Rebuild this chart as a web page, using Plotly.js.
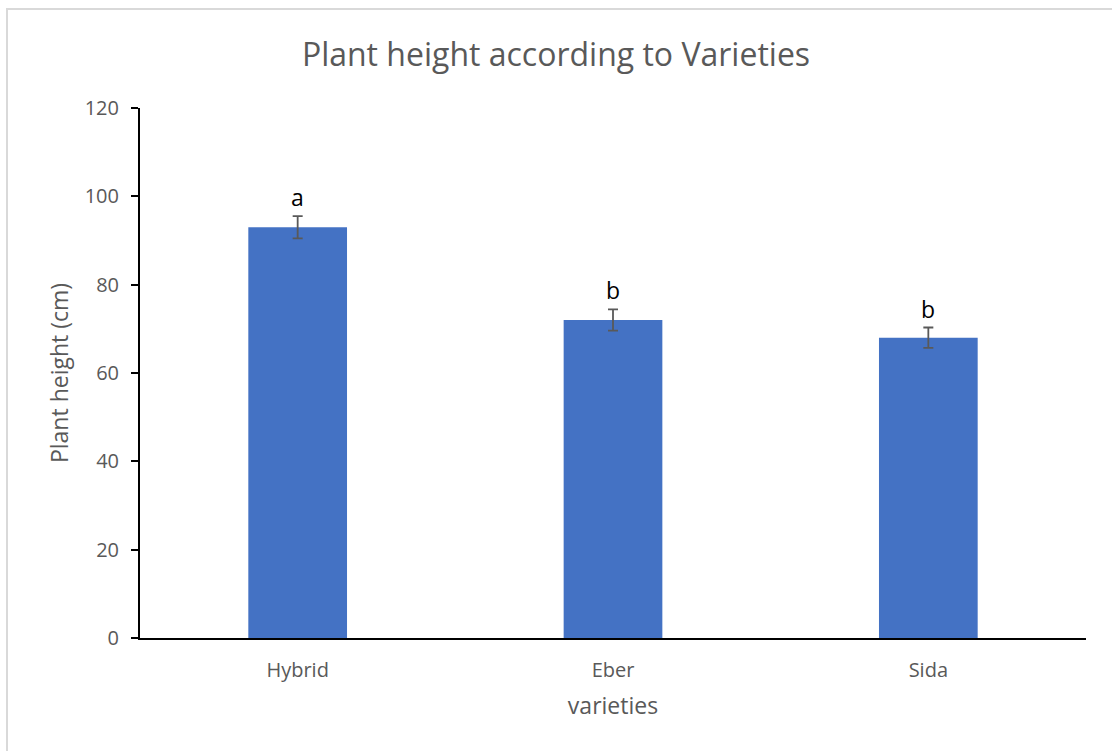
<!DOCTYPE html>
<html>
<head>
<meta charset="utf-8">
<script src="https://cdn.plot.ly/plotly-3.0.1.min.js"></script>
<style>
  html, body { margin: 0; padding: 0; background: #fff; }
  #frame { position: absolute; left: 6px; top: 8px; width: 1120px; height: 760px; border: 2px solid #d9d9d9; box-sizing: border-box; }
  #chart { position: absolute; left: 0; top: 0; width: 1112px; height: 751px; }
</style>
</head>
<body>
<div id="frame"></div>
<div id="chart"></div>
<script>
const categories = ["Hybrid", "Eber", "Sida"];
const heights = [93, 72, 68];
const errors = [2.5, 2.4, 2.3];
const letters = ["a", "b", "b"];
const yTicks = [0, 20, 40, 60, 80, 100, 120];

const font = "'Open Sans', sans-serif";
const grey = "#595959";

const trace = {
  type: "bar",
  x: categories,
  y: heights,
  marker: { color: "#4472c4", line: { width: 0 } },
  error_y: { type: "data", array: errors, visible: true, color: grey, thickness: 1.8, width: 5 },
  hoverinfo: "x+y"
};

const annotations = categories.map((c, i) => ({
  x: c, y: heights[i] + errors[i], xref: "x", yref: "y",
  text: letters[i], showarrow: false, yanchor: "bottom", yshift: 1,
  font: { family: font, size: 23, color: "#000" }
}));

const layout = {
  width: 1112, height: 751,
  paper_bgcolor: "rgba(0,0,0,0)", plot_bgcolor: "rgba(0,0,0,0)",
  margin: { l: 140, r: 26, t: 108, b: 113 },
  showlegend: false,
  bargap: 0.687,
  title: { text: "Plant height according to Varieties", x: 0.5, xanchor: "center", y: 0.927, yanchor: "middle",
           font: { family: font, size: 32, color: grey } },
  xaxis: {
    showline: true, linecolor: "#000", linewidth: 2, ticks: "", showgrid: false,
    tickfont: { family: font, size: 20, color: grey },
    ticklabelstandoff: 13,
    title: { text: "varieties", font: { family: font, size: 23, color: grey }, standoff: 16 },
    fixedrange: true
  },
  yaxis: {
    range: [0, 120], tickvals: yTicks, ticktext: yTicks.map(String),
    showline: true, linecolor: "#000", linewidth: 2, ticks: "outside", ticklen: 7, tickwidth: 2, tickcolor: "#000",
    showgrid: false, zeroline: false,
    ticklabelstandoff: 8,
    tickfont: { family: font, size: 20, color: grey },
    title: { text: "Plant height (cm)", font: { family: font, size: 23, color: grey }, standoff: 10 },
    fixedrange: true
  },
  annotations: annotations
};

Plotly.newPlot("chart", [trace], layout, { displayModeBar: false, staticPlot: true });
</script>
</body>
</html>
